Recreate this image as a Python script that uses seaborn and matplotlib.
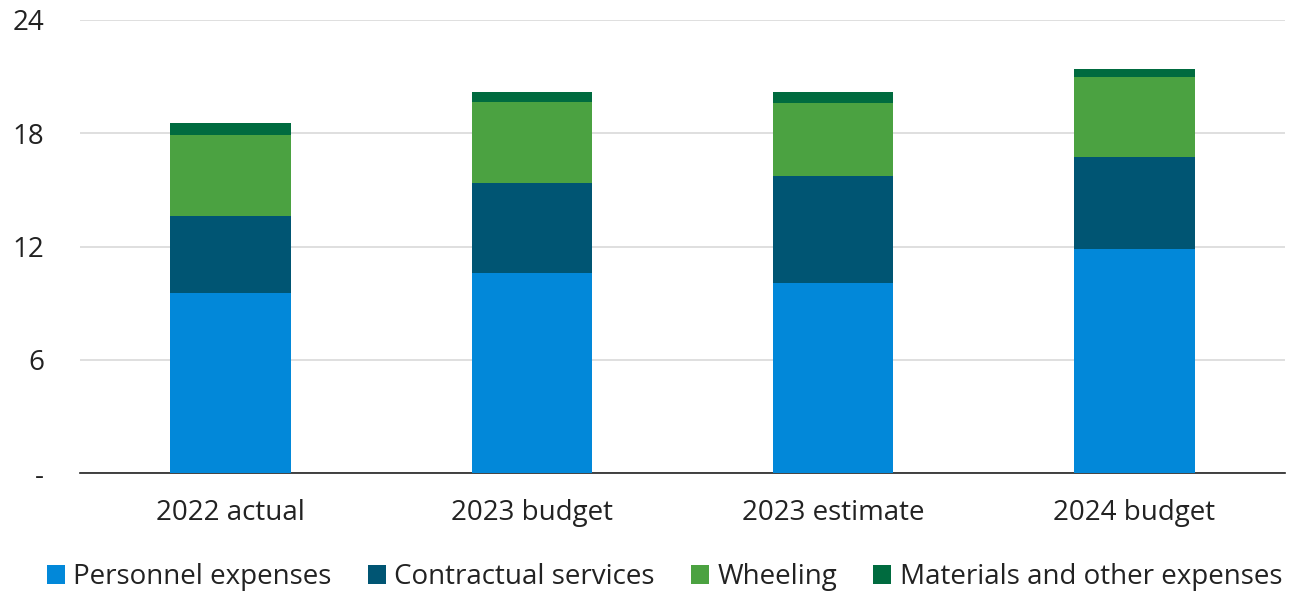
import numpy as np
import pandas as pd
import matplotlib
matplotlib.use("Agg")
import matplotlib.pyplot as plt
import seaborn as sns
from matplotlib.patches import Patch

categories = ["2022 actual", "2023 budget", "2023 estimate", "2024 budget"]
personnel = [9.56, 10.57, 10.05, 11.89]
contractual = [4.06, 4.77, 5.69, 4.86]
wheeling = [4.28, 4.31, 3.85, 4.24]
materials = [0.62, 0.56, 0.62, 0.40]
series_names = ["Personnel expenses", "Contractual services", "Wheeling", "Materials and other expenses"]
colors = ["#0288D9", "#005573", "#4BA241", "#006B3F"]
yticks = [0, 6, 12, 18, 24]
ytick_labels = ["-", "6", "12", "18", "24"]

sns.set_theme(style="white")
plt.rcParams["font.family"] = ["Open Sans", "DejaVu Sans"]

fig = plt.figure(figsize=(12.93, 5.98), dpi=100)
ax = fig.add_axes([80/1293, 1 - 473/598, 1205/1293, 453/598])

series = [personnel, contractual, wheeling, materials]
bottom = np.zeros(len(categories))
for name, vals, col in zip(series_names, series, colors):
    df = pd.DataFrame({"cat": categories, "val": vals})
    sns.barplot(data=df, x="cat", y="val", bottom=bottom, color=col, width=0.4,
                ax=ax, saturation=1, edgecolor="none", linewidth=0, zorder=3)
    bottom = bottom + np.array(vals)

ax.set_ylim(0, 24)
ax.set_xlim(-0.5, 3.5)
ax.set_yticks(yticks)
ax.set_yticklabels(ytick_labels, fontsize=20, color="#222222")
ax.tick_params(axis="x", labelsize=20, colors="#222222", pad=19, length=0)
ax.tick_params(axis="y", length=0, pad=26)
ax.set_xlabel("")
ax.set_ylabel("")
ax.yaxis.grid(True, color="#D9D9D9", linewidth=1.2, zorder=0)
ax.set_axisbelow(True)
for s in ["top", "right", "left"]:
    ax.spines[s].set_visible(False)
ax.spines["bottom"].set_color("#222222")
ax.spines["bottom"].set_linewidth(1.2)

handles = [Patch(facecolor=c, edgecolor="none") for c in colors]
fig.legend(handles, series_names, loc="center", bbox_to_anchor=(0.514, 1 - 577/598),
           ncol=4, frameon=False, fontsize=20, handlelength=0.65, handleheight=0.65,
           handletextpad=0.3, columnspacing=1.3, labelcolor="#222222")

fig.savefig("out.png", dpi=100)
